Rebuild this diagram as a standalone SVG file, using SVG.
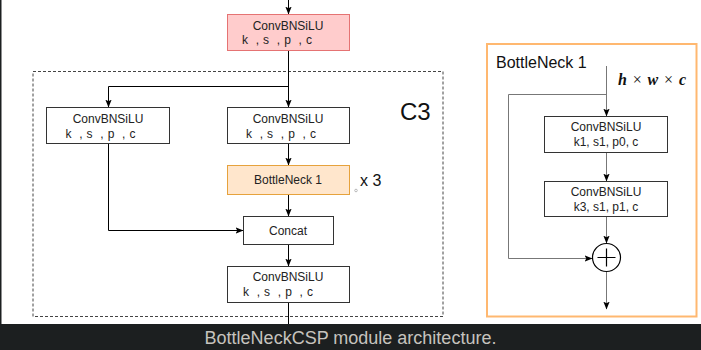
<svg xmlns="http://www.w3.org/2000/svg" width="701" height="350" viewBox="0 0 701 350">
  <defs>
    <marker id="arr" viewBox="0 0 8 8" refX="7.5" refY="4" markerWidth="8" markerHeight="8" markerUnits="userSpaceOnUse" orient="auto">
      <path d="M0,0.8 L8,4 L0,7.2 L1.8,4 Z" fill="#000"/>
    </marker>
    <style>
      .lbl { font-family: "Liberation Sans", Arial, sans-serif; font-size: 12px; fill: #222; }
      .mid { text-anchor: middle; }
      .pre { white-space: pre; }
      .box { fill: #fff; stroke: #333; stroke-width: 1; }
      .wire { fill: none; stroke: #000; stroke-width: 1; }
      .wire2 { fill: none; stroke: #777; stroke-width: 1; }
    </style>
  </defs>

  <!-- page -->
  <rect x="0" y="0" width="701" height="350" fill="#fff"/>
  <rect x="0" y="0" width="1.5" height="324" fill="#1c1f20"/>

  <!-- C3 frame -->
  <g id="c3-frame">
    <rect x="33" y="71.5" width="410" height="245" fill="none" stroke="#444" stroke-width="1" stroke-dasharray="3 2"/>
    <text x="400" y="120" font-family="Liberation Sans, Arial, sans-serif" font-size="24" fill="#111">C3</text>
  </g>

  <!-- connectors -->
  <g id="connectors">
    <path class="wire" d="M288.5,0 V14" marker-end="url(#arr)"/>
    <path class="wire" d="M288.5,50 V107" marker-end="url(#arr)"/>
    <path class="wire" d="M288.5,86.5 H108.5 V107" marker-end="url(#arr)"/>
    <path class="wire" d="M288.5,144 V165" marker-end="url(#arr)"/>
    <path class="wire" d="M288.5,194 V216" marker-end="url(#arr)"/>
    <path class="wire" d="M108.5,144 V230.5 H243" marker-end="url(#arr)"/>
    <path class="wire" d="M288.5,245 V266" marker-end="url(#arr)"/>
    <path class="wire" d="M288.5,302 V324"/>

    <path class="wire2" d="M606.5,66 V116" marker-end="url(#arr)"/>
    <path class="wire2" d="M606.5,94.5 H508.5 V258.5 H592" marker-end="url(#arr)"/>
    <path class="wire2" d="M606.5,152 V181" marker-end="url(#arr)"/>
    <path class="wire2" d="M606.5,217 V243" marker-end="url(#arr)"/>
    <path class="wire2" d="M606.5,272 V309" marker-end="url(#arr)"/>
  </g>

  <!-- C3 nodes -->
  <g id="conv-in">
    <rect x="227.5" y="14.5" width="122" height="36" fill="#ffcccc" stroke="#e57373"/>
    <text class="lbl mid" x="288" y="30">ConvBNSiLU</text>
    <text class="lbl pre" x="242" y="44" textLength="70" lengthAdjust="spacing">k  , s  , p  , c</text>
  </g>
  <g id="conv-left">
    <rect class="box" x="46.5" y="107.5" width="123" height="36"/>
    <text class="lbl mid" x="108" y="122.5">ConvBNSiLU</text>
    <text class="lbl pre" x="65.5" y="137.5" textLength="70" lengthAdjust="spacing">k  , s  , p  , c</text>
  </g>
  <g id="conv-right">
    <rect class="box" x="227.5" y="107.5" width="122" height="36"/>
    <text class="lbl mid" x="288" y="122.5">ConvBNSiLU</text>
    <text class="lbl pre" x="246" y="137.5" textLength="70" lengthAdjust="spacing">k  , s  , p  , c</text>
  </g>
  <g id="bottleneck">
    <rect x="227.5" y="165.5" width="122" height="29" fill="#ffe6cc" stroke="#e6a23c"/>
    <text class="lbl mid" x="288" y="184">BottleNeck 1</text>
    <text x="360" y="185.5" font-family="Liberation Sans, Arial, sans-serif" font-size="16" fill="#111">x 3</text>
    <circle cx="356" cy="190.5" r="1.3" fill="none" stroke="#aaa" stroke-width="0.8"/>
  </g>
  <g id="concat">
    <rect class="box" x="243.5" y="216.5" width="90" height="28"/>
    <text class="lbl mid" x="288" y="234.5">Concat</text>
  </g>
  <g id="conv-out">
    <rect class="box" x="227.5" y="266.5" width="122" height="36"/>
    <text class="lbl mid" x="288" y="281">ConvBNSiLU</text>
    <text class="lbl pre" x="243" y="296" textLength="70" lengthAdjust="spacing">k  , s  , p  , c</text>
  </g>

  <!-- BottleNeck detail panel -->
  <g id="bottleneck-panel">
    <rect x="487" y="44" width="209.5" height="272.5" fill="none" stroke="#ffb870" stroke-width="2"/>
    <text x="496" y="68" font-family="Liberation Sans, Arial, sans-serif" font-size="16" fill="#111">BottleNeck 1</text>
    <text x="618" y="85" textLength="68" lengthAdjust="spacing" font-family="Liberation Serif, 'Times New Roman', serif" font-size="16" font-style="italic" font-weight="bold" fill="#111">h <tspan font-style="normal" font-weight="normal">×</tspan> w <tspan font-style="normal" font-weight="normal">×</tspan> c</text>
  </g>
  <g id="bn-conv1">
    <rect class="box" x="544.5" y="116.5" width="123" height="36" stroke="#000"/>
    <text class="lbl mid" x="606" y="131">ConvBNSiLU</text>
    <text class="lbl mid" x="606" y="146">k1, s1, p0, c</text>
  </g>
  <g id="bn-conv2">
    <rect class="box" x="544.5" y="181.5" width="123" height="35" stroke="#000"/>
    <text class="lbl mid" x="606" y="196">ConvBNSiLU</text>
    <text class="lbl mid" x="606" y="211">k3, s1, p1, c</text>
  </g>
  <g id="bn-add">
    <circle cx="606.5" cy="257.5" r="14" fill="#fff" stroke="#000" stroke-width="1.2"/>
    <path d="M597.5,257.5 H615.5 M606.5,248.5 V266.5" stroke="#000" stroke-width="1.2"/>
  </g>

  <!-- caption band -->
  <rect x="0" y="324" width="701" height="26" fill="#1c1f20"/>
  <text x="350.5" y="344" text-anchor="middle" font-family="Liberation Sans, Arial, sans-serif" font-size="18" fill="#c6c3be">BottleNeckCSP module architecture.</text>
</svg>
